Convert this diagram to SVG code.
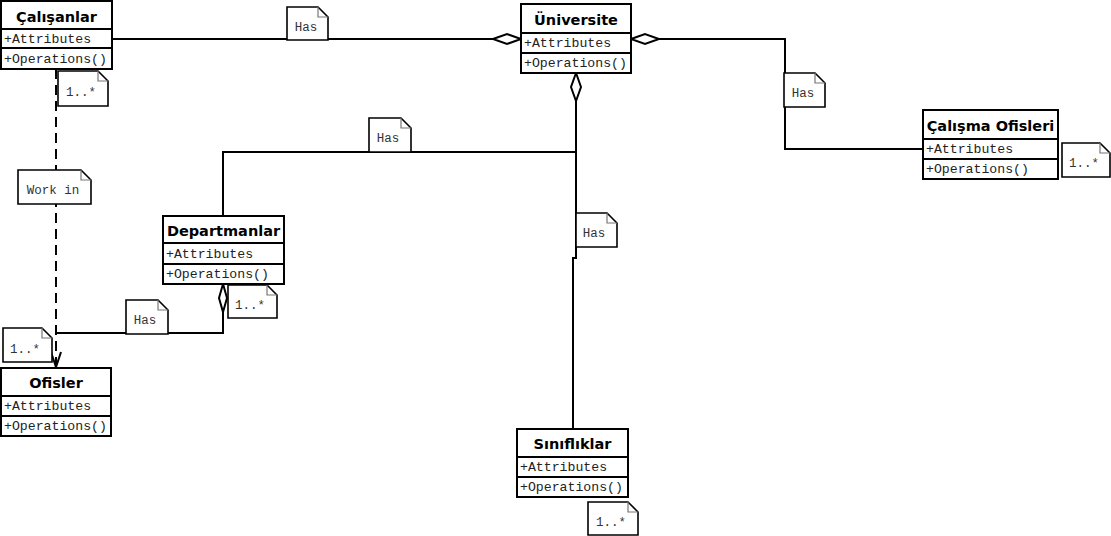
<svg xmlns="http://www.w3.org/2000/svg" width="1111" height="536" viewBox="0 0 1111 536">
<defs>
<style>
.box{fill:#fff;stroke:#000;stroke-width:2}
.sep{stroke:#000;stroke-width:2}
.title{font-family:"DejaVu Sans",sans-serif;font-weight:bold;font-size:14.5px;fill:#000;text-anchor:middle}
.mem{font-family:"Liberation Mono","Courier New",monospace;font-size:13.2px;fill:#222}
.line{fill:none;stroke:#000;stroke-width:2}
.dash{fill:none;stroke:#000;stroke-width:2;stroke-dasharray:10,6}
.dia{fill:#fff;stroke:#000;stroke-width:2}
.note{fill:#fff;stroke:#000;stroke-width:1.6}
.fold{fill:none;stroke:#777;stroke-width:1.2}
.nt{font-family:"Liberation Mono","Courier New",monospace;font-size:12.5px;fill:#333;text-anchor:middle}
</style>
</defs>
<rect width="1111" height="536" fill="#fff"/>

<g id="connectors">
<path class="line" d="M112,39 H493"/>
<polygon class="dia" points="493,39 507,34 521,39 507,44"/>
<path class="line" d="M659,39 H785 V149 H923"/>
<polygon class="dia" points="631,39 645,34 659,39 645,44"/>
<path class="line" d="M576,101 V258 H573 V429"/>
<polygon class="dia" points="576,73 571,87 576,101 581,87"/>
<path class="line" d="M576,152 H223 V216"/>
<path class="line" d="M223,312 V333 H56"/>
<polygon class="dia" points="223,284 219,298 223,312 227,298"/>
<path class="dash" d="M56,69 V366"/>
<polyline class="line" points="51,352 56,367 61,352"/>
</g>

<g id="Calisanlar" transform="translate(1,1)">
<rect class="box" x="0" y="0" width="111" height="68"/>
<line class="sep" x1="0" y1="28" x2="111" y2="28"/>
<line class="sep" x1="0" y1="47" x2="111" y2="47"/>
<text class="title" x="55.5" y="21">Çalışanlar</text>
<text class="mem" x="3" y="42">+Attributes</text>
<text class="mem" x="3" y="62">+Operations()</text>
</g>

<g id="Universite" transform="translate(521,4)">
<rect class="box" x="0" y="0" width="110" height="69"/>
<line class="sep" x1="0" y1="29" x2="110" y2="29"/>
<line class="sep" x1="0" y1="49" x2="110" y2="49"/>
<text class="title" x="55" y="21">Üniversite</text>
<text class="mem" x="3" y="43">+Attributes</text>
<text class="mem" x="3" y="63">+Operations()</text>
</g>

<g id="CalismaOfisleri" transform="translate(923,110)">
<rect class="box" x="0" y="0" width="135" height="69"/>
<line class="sep" x1="0" y1="29" x2="135" y2="29"/>
<line class="sep" x1="0" y1="49" x2="135" y2="49"/>
<text class="title" x="67.5" y="21">Çalışma Ofisleri</text>
<text class="mem" x="3" y="43">+Attributes</text>
<text class="mem" x="3" y="63">+Operations()</text>
</g>

<g id="Departmanlar" transform="translate(163,216)">
<rect class="box" x="0" y="0" width="121" height="68"/>
<line class="sep" x1="0" y1="27" x2="121" y2="27"/>
<line class="sep" x1="0" y1="48" x2="121" y2="48"/>
<text class="title" x="60.5" y="20">Departmanlar</text>
<text class="mem" x="3" y="42">+Attributes</text>
<text class="mem" x="3" y="62">+Operations()</text>
</g>

<g id="Ofisler" transform="translate(1,368)">
<rect class="box" x="0" y="0" width="110" height="68"/>
<line class="sep" x1="0" y1="28" x2="110" y2="28"/>
<line class="sep" x1="0" y1="48" x2="110" y2="48"/>
<text class="title" x="55" y="20">Ofisler</text>
<text class="mem" x="3" y="42">+Attributes</text>
<text class="mem" x="3" y="62">+Operations()</text>
</g>

<g id="Siniflikar" transform="translate(517,429)">
<rect class="box" x="0" y="0" width="111" height="68"/>
<line class="sep" x1="0" y1="28" x2="111" y2="28"/>
<line class="sep" x1="0" y1="48" x2="111" y2="48"/>
<text class="title" x="55.5" y="20">Sınıflıklar</text>
<text class="mem" x="3" y="42">+Attributes</text>
<text class="mem" x="3" y="62">+Operations()</text>
</g>

<g id="note-has1" transform="translate(287,7)">
<path class="note" d="M0,0 H31 L41,10 V33 H0 Z"/><path class="fold" d="M31,0 V10 H41"/>
<text class="nt" x="19" y="24">Has</text>
</g>
<g id="note-has2" transform="translate(784,73)">
<path class="note" d="M0,0 H31 L41,10 V34 H0 Z"/><path class="fold" d="M31,0 V10 H41"/>
<text class="nt" x="19" y="24">Has</text>
</g>
<g id="note-has3" transform="translate(369,118)">
<path class="note" d="M0,0 H32 L42,10 V34 H0 Z"/><path class="fold" d="M32,0 V10 H42"/>
<text class="nt" x="19" y="24">Has</text>
</g>
<g id="note-has4" transform="translate(576,213)">
<path class="note" d="M0,0 H31 L41,10 V34 H0 Z"/><path class="fold" d="M31,0 V10 H41"/>
<text class="nt" x="18" y="24">Has</text>
</g>
<g id="note-has5" transform="translate(126,300)">
<path class="note" d="M0,0 H32 L42,10 V34 H0 Z"/><path class="fold" d="M32,0 V10 H42"/>
<text class="nt" x="19" y="24">Has</text>
</g>
<g id="note-workin" transform="translate(18,170)">
<path class="note" d="M0,0 H63 L73,10 V34 H0 Z"/><path class="fold" d="M63,0 V10 H73"/>
<text class="nt" x="35" y="24">Work in</text>
</g>
<g id="note-m1" transform="translate(58,71)">
<path class="note" d="M0,0 H40 L50,10 V35 H0 Z"/><path class="fold" d="M40,0 V10 H50"/>
<text class="nt" x="23" y="25">1..*</text>
</g>
<g id="note-m2" transform="translate(1062,143)">
<path class="note" d="M0,0 H38 L48,10 V34 H0 Z"/><path class="fold" d="M38,0 V10 H48"/>
<text class="nt" x="22" y="24">1..*</text>
</g>
<g id="note-m3" transform="translate(228,285)">
<path class="note" d="M0,0 H39 L49,10 V33 H0 Z"/><path class="fold" d="M39,0 V10 H49"/>
<text class="nt" x="22" y="24">1..*</text>
</g>
<g id="note-m4" transform="translate(3,328)">
<path class="note" d="M0,0 H39 L49,10 V34 H0 Z"/><path class="fold" d="M39,0 V10 H49"/>
<text class="nt" x="22" y="25">1..*</text>
</g>
<g id="note-m5" transform="translate(588,502)">
<path class="note" d="M0,0 H40 L50,10 V33 H0 Z"/><path class="fold" d="M40,0 V10 H50"/>
<text class="nt" x="23" y="24">1..*</text>
</g>
</svg>
